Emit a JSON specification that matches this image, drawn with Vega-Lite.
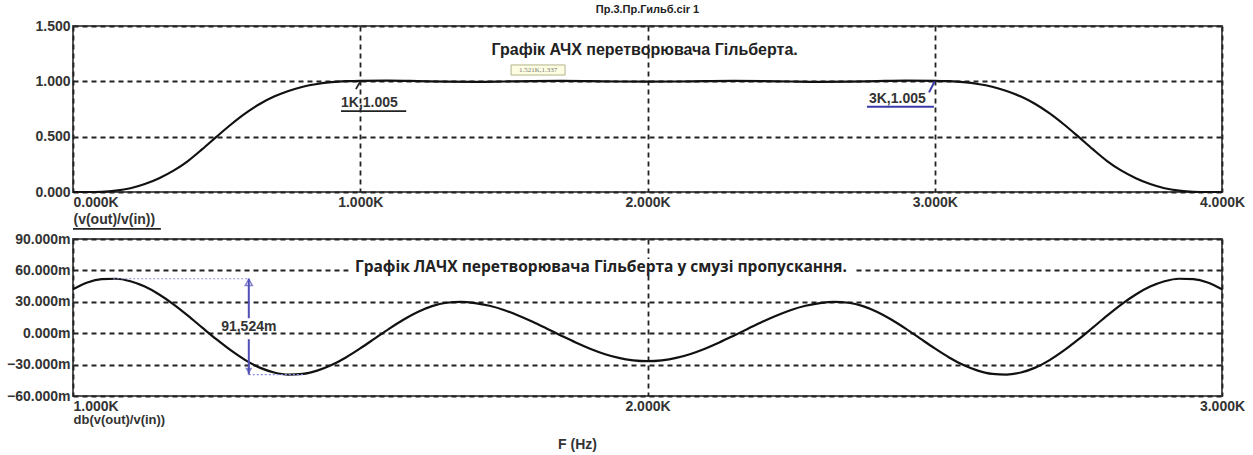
{
  "$schema": "https://vega.github.io/schema/vega-lite/v6.json",
  "background": "white",
  "padding": {"left": 5, "top": 4, "right": 5, "bottom": 0},
  "title": {
    "text": "Пр.3.Пр.Гильб.cir 1",
    "font": "Liberation Sans",
    "fontSize": 11,
    "fontWeight": "bold",
    "color": "#222",
    "anchor": "middle",
    "frame": "group",
    "offset": 3
  },
  "config": {
    "font": "Liberation Sans",
    "view": {"stroke": "#555", "strokeWidth": 2},
    "axis": {
      "labelFont": "Liberation Sans",
      "labelFontSize": 14,
      "labelFontWeight": "bold",
      "labelColor": "#333",
      "labelOverlap": false,
      "tickCount": 10,
      "ticks": false,
      "domain": false,
      "grid": true,
      "gridColor": "#222",
      "gridDash": [5, 4],
      "gridWidth": 1.8,
      "gridOpacity": 1,
      "titleFont": "Liberation Sans",
      "titleFontSize": 14,
      "titleFontWeight": "bold",
      "titleColor": "#333"
    }
  },
  "bounds": "flush",
  "spacing": 47,
  "vconcat": [
    {
      "width": 1149,
      "height": 166,
      "layer": [
        {
          "data": {"values": [
            {"f": 0.00, "v": 0}, {"f": 0.05, "v": 0}, {"f": 0.10, "v": 0.002}, {"f": 0.15, "v": 0.012},
            {"f": 0.20, "v": 0.034}, {"f": 0.25, "v": 0.072}, {"f": 0.30, "v": 0.125}, {"f": 0.35, "v": 0.193},
            {"f": 0.40, "v": 0.28}, {"f": 0.45, "v": 0.387}, {"f": 0.50, "v": 0.5}, {"f": 0.55, "v": 0.61},
            {"f": 0.60, "v": 0.71}, {"f": 0.65, "v": 0.795}, {"f": 0.70, "v": 0.862}, {"f": 0.75, "v": 0.913},
            {"f": 0.80, "v": 0.951}, {"f": 0.85, "v": 0.976}, {"f": 0.90, "v": 0.992}, {"f": 0.95, "v": 1.001},
            {"f": 1.00, "v": 1.005}, {"f": 1.10, "v": 1.0058}, {"f": 1.20, "v": 1.0019}, {"f": 1.30, "v": 0.997},
            {"f": 1.40, "v": 0.9955}, {"f": 1.50, "v": 0.9983}, {"f": 1.60, "v": 1.0023}, {"f": 1.70, "v": 1.0033},
            {"f": 1.80, "v": 1.0013}, {"f": 1.90, "v": 0.9983}, {"f": 2.00, "v": 0.9969}, {"f": 2.10, "v": 0.9983},
            {"f": 2.20, "v": 1.0013}, {"f": 2.30, "v": 1.0033}, {"f": 2.40, "v": 1.0023}, {"f": 2.50, "v": 0.9983},
            {"f": 2.60, "v": 0.9955}, {"f": 2.70, "v": 0.997}, {"f": 2.80, "v": 1.0019}, {"f": 2.90, "v": 1.0058},
            {"f": 3.00, "v": 1.005}, {"f": 3.05, "v": 1.001}, {"f": 3.10, "v": 0.992}, {"f": 3.15, "v": 0.976},
            {"f": 3.20, "v": 0.951}, {"f": 3.25, "v": 0.913}, {"f": 3.30, "v": 0.862}, {"f": 3.35, "v": 0.795},
            {"f": 3.40, "v": 0.71}, {"f": 3.45, "v": 0.61}, {"f": 3.50, "v": 0.5}, {"f": 3.55, "v": 0.387},
            {"f": 3.60, "v": 0.28}, {"f": 3.65, "v": 0.193}, {"f": 3.70, "v": 0.125}, {"f": 3.75, "v": 0.072},
            {"f": 3.80, "v": 0.034}, {"f": 3.85, "v": 0.012}, {"f": 3.90, "v": 0.002}, {"f": 3.95, "v": 0},
            {"f": 4.00, "v": 0}
          ]},
          "mark": {"type": "line", "color": "#111", "strokeWidth": 2.2, "interpolate": "monotone"},
          "encoding": {
            "x": {
              "field": "f", "type": "quantitative",
              "scale": {"domain": [0, 4], "nice": false, "zero": false},
              "axis": {
                "values": [0, 1, 2, 3, 4],
                "labelExpr": "format(datum.value, '.3f') + 'K'",
                "labelAlign": {"condition": {"test": "datum.value == 0", "value": "left"}, "value": "center"},
                "labelPadding": 3,
                "title": "(v(out)/v(in))",
                "titleAnchor": "start",
                "titleAlign": "left",
                "titlePadding": 3
              }
            },
            "y": {
              "field": "v", "type": "quantitative",
              "scale": {"domain": [0, 1.5], "nice": false},
              "axis": {"values": [0, 0.5, 1, 1.5], "format": ".3f", "labelPadding": 3, "title": null}
            }
          }
        },
        {
          "data": {"values": [{"f1": 1.525, "f2": 1.713, "v1": 1.057, "v2": 1.148}]},
          "mark": {"type": "rect", "fill": "#fdfde2", "stroke": "#b4b48c", "strokeWidth": 1},
          "encoding": {
            "x": {"field": "f1", "type": "quantitative"},
            "x2": {"field": "f2"},
            "y": {"field": "v1", "type": "quantitative"},
            "y2": {"field": "v2"}
          }
        },
        {
          "data": {"values": [{"f": 1.619, "v": 1.102, "label": "1.521K,1.337"}]},
          "mark": {"type": "text", "fontSize": 7, "color": "#777", "font": "Liberation Serif"},
          "encoding": {
            "x": {"field": "f", "type": "quantitative"},
            "y": {"field": "v", "type": "quantitative"},
            "text": {"field": "label"}
          }
        },
        {
          "data": {"values": [{"f": 1.99, "v": 1.283, "label": "Графік АЧХ перетворювача Гільберта."}]},
          "mark": {"type": "text", "fontSize": 16, "fontWeight": "bold", "color": "#222"},
          "encoding": {
            "x": {"field": "f", "type": "quantitative"},
            "y": {"field": "v", "type": "quantitative"},
            "text": {"field": "label"}
          }
        },
        {
          "data": {"values": [
            {"f": 0.933, "v": 0.80, "label": "1K,1.005"},
            {"f": 2.771, "v": 0.84, "label": "3K,1.005"}
          ]},
          "mark": {"type": "text", "fontSize": 14, "fontWeight": "bold", "color": "#333", "align": "left"},
          "encoding": {
            "x": {"field": "f", "type": "quantitative"},
            "y": {"field": "v", "type": "quantitative"},
            "text": {"field": "label"}
          }
        },
        {
          "data": {"values": [
            {"f1": 0.933, "f2": 1.16, "v1": 0.73, "v2": 0.73},
            {"f1": 0.985, "f2": 1.0, "v1": 0.93, "v2": 1.0},
            {"f1": 0.0, "f2": 0.306, "v1": -0.334, "v2": -0.334}
          ]},
          "mark": {"type": "rule", "color": "#222", "strokeWidth": 1.8},
          "encoding": {
            "x": {"field": "f1", "type": "quantitative"},
            "x2": {"field": "f2"},
            "y": {"field": "v1", "type": "quantitative"},
            "y2": {"field": "v2"}
          }
        },
        {
          "data": {"values": [
            {"f1": 2.764, "f2": 2.997, "v1": 0.77, "v2": 0.77},
            {"f1": 2.98, "f2": 3.0, "v1": 0.90, "v2": 1.0}
          ]},
          "mark": {"type": "rule", "color": "#3a3aaa", "strokeWidth": 2},
          "encoding": {
            "x": {"field": "f1", "type": "quantitative"},
            "x2": {"field": "f2"},
            "y": {"field": "v1", "type": "quantitative"},
            "y2": {"field": "v2"}
          }
        }
      ]
    },
    {
      "width": 1149,
      "height": 157,
      "layer": [
        {
          "data": {"values": [{"f1": 1.48, "f2": 2.36, "v1": 57.0, "v2": 71.0}]},
          "mark": {"type": "rect", "fill": "white"},
          "encoding": {
            "x": {"field": "f1", "type": "quantitative"},
            "x2": {"field": "f2"},
            "y": {"field": "v1", "type": "quantitative"},
            "y2": {"field": "v2"}
          }
        },
        {
          "data": {"values": [
            {"f": 1.000, "db": 42.0}, {"f": 1.025, "db": 48.5}, {"f": 1.050, "db": 51.6}, {"f": 1.075, "db": 52.0},
            {"f": 1.100, "db": 49.6}, {"f": 1.125, "db": 44.5}, {"f": 1.150, "db": 37.0}, {"f": 1.175, "db": 27.6},
            {"f": 1.200, "db": 16.8}, {"f": 1.225, "db": 5.3}, {"f": 1.250, "db": -6.0}, {"f": 1.275, "db": -16.5},
            {"f": 1.300, "db": -25.7}, {"f": 1.325, "db": -32.9}, {"f": 1.350, "db": -37.5}, {"f": 1.375, "db": -39.5},
            {"f": 1.400, "db": -38.9}, {"f": 1.425, "db": -35.8}, {"f": 1.450, "db": -30.5}, {"f": 1.475, "db": -23.2},
            {"f": 1.500, "db": -14.5}, {"f": 1.525, "db": -5.2}, {"f": 1.550, "db": 4.2}, {"f": 1.575, "db": 12.9},
            {"f": 1.600, "db": 20.3}, {"f": 1.625, "db": 25.9}, {"f": 1.650, "db": 29.1}, {"f": 1.675, "db": 30.0},
            {"f": 1.700, "db": 28.8}, {"f": 1.725, "db": 26.2}, {"f": 1.750, "db": 22.2}, {"f": 1.775, "db": 16.9},
            {"f": 1.800, "db": 10.9}, {"f": 1.825, "db": 4.3}, {"f": 1.850, "db": -2.4}, {"f": 1.875, "db": -8.9},
            {"f": 1.900, "db": -14.8}, {"f": 1.925, "db": -19.8}, {"f": 1.950, "db": -23.6}, {"f": 1.975, "db": -25.9},
            {"f": 2.000, "db": -26.7}, {"f": 2.025, "db": -25.9}, {"f": 2.050, "db": -23.6}, {"f": 2.075, "db": -19.8},
            {"f": 2.100, "db": -14.8}, {"f": 2.125, "db": -8.9}, {"f": 2.150, "db": -2.4}, {"f": 2.175, "db": 4.3},
            {"f": 2.200, "db": 10.9}, {"f": 2.225, "db": 16.9}, {"f": 2.250, "db": 22.2}, {"f": 2.275, "db": 26.2},
            {"f": 2.300, "db": 28.8}, {"f": 2.325, "db": 30.0}, {"f": 2.350, "db": 29.1}, {"f": 2.375, "db": 25.9},
            {"f": 2.400, "db": 20.3}, {"f": 2.425, "db": 12.9}, {"f": 2.450, "db": 4.2}, {"f": 2.475, "db": -5.2},
            {"f": 2.500, "db": -14.5}, {"f": 2.525, "db": -23.2}, {"f": 2.550, "db": -30.5}, {"f": 2.575, "db": -35.8},
            {"f": 2.600, "db": -38.9}, {"f": 2.625, "db": -39.5}, {"f": 2.650, "db": -37.5}, {"f": 2.675, "db": -32.9},
            {"f": 2.700, "db": -25.7}, {"f": 2.725, "db": -16.5}, {"f": 2.750, "db": -6.0}, {"f": 2.775, "db": 5.3},
            {"f": 2.800, "db": 16.8}, {"f": 2.825, "db": 27.6}, {"f": 2.850, "db": 37.0}, {"f": 2.875, "db": 44.5},
            {"f": 2.900, "db": 49.6}, {"f": 2.925, "db": 52.0}, {"f": 2.950, "db": 51.6}, {"f": 2.975, "db": 48.5},
            {"f": 3.000, "db": 42.0}
          ]},
          "mark": {"type": "line", "color": "#111", "strokeWidth": 2.2, "interpolate": "monotone"},
          "encoding": {
            "x": {
              "field": "f", "type": "quantitative",
              "scale": {"domain": [1, 3], "nice": false, "zero": false},
              "axis": {
                "values": [1, 2, 3],
                "labelExpr": "format(datum.value, '.3f') + 'K'",
                "labelAlign": {"condition": {"test": "datum.value == 1", "value": "left"}, "value": "center"},
                "labelPadding": 3,
                "title": "F (Hz)",
                "titleX": 504,
                "titleY": 48,
                "titleAlign": "center",
                "titleBaseline": "middle"
              }
            },
            "y": {
              "field": "db", "type": "quantitative",
              "scale": {"domain": [-60, 90], "nice": false, "zero": false},
              "axis": {
                "values": [-60, -30, 0, 30, 60, 90],
                "tickCount": 10,
                "labelExpr": "format(datum.value, '.3f') + 'm'",
                "labelPadding": 3,
                "title": "db(v(out)/v(in))",
                "titleFontSize": 13,
                "titleAngle": 0,
                "titleX": 0,
                "titleY": 180,
                "titleAlign": "left",
                "titleBaseline": "middle"
              }
            }
          }
        },
        {
          "data": {"values": [{"f": 1.919, "db": 63.5, "label": "Графік ЛАЧХ перетворювача Гільберта у смузі пропускання."}]},
          "mark": {"type": "text", "font": "Open Sans", "fontSize": 15.5, "fontWeight": "bold", "color": "#222"},
          "encoding": {
            "x": {"field": "f", "type": "quantitative"},
            "y": {"field": "db", "type": "quantitative"},
            "text": {"field": "label"}
          }
        },
        {
          "data": {"values": [
            {"f1": 1.07, "f2": 1.306, "d1": 52.0, "d2": 52.0},
            {"f1": 1.306, "f2": 1.40, "d1": -39.524, "d2": -39.524}
          ]},
          "mark": {"type": "rule", "color": "#8c8ce0", "strokeWidth": 1.2, "strokeDash": [2, 2]},
          "encoding": {
            "x": {"field": "f1", "type": "quantitative"},
            "x2": {"field": "f2"},
            "y": {"field": "d1", "type": "quantitative"},
            "y2": {"field": "d2"}
          }
        },
        {
          "data": {"values": [
            {"f": 1.306, "d1": 52.0, "d2": 14.3},
            {"f": 1.306, "d1": -5.7, "d2": -39.524}
          ]},
          "mark": {"type": "rule", "color": "#5050b8", "strokeWidth": 2},
          "encoding": {
            "x": {"field": "f", "type": "quantitative"},
            "y": {"field": "d1", "type": "quantitative"},
            "y2": {"field": "d2"}
          }
        },
        {
          "data": {"values": [{"f": 1.306, "db": 48.5}]},
          "mark": {"type": "point", "shape": "triangle-up", "size": 50, "color": "#5050b8", "filled": false, "strokeWidth": 1.5},
          "encoding": {
            "x": {"field": "f", "type": "quantitative"},
            "y": {"field": "db", "type": "quantitative"}
          }
        },
        {
          "data": {"values": [{"f": 1.306, "db": -36.0}]},
          "mark": {"type": "point", "shape": "triangle-down", "size": 50, "color": "#5050b8", "filled": true},
          "encoding": {
            "x": {"field": "f", "type": "quantitative"},
            "y": {"field": "db", "type": "quantitative"}
          }
        },
        {
          "data": {"values": [{"f": 1.306, "db": 6.0, "label": "91,524m"}]},
          "mark": {"type": "text", "fontSize": 14, "fontWeight": "bold", "color": "#333"},
          "encoding": {
            "x": {"field": "f", "type": "quantitative"},
            "y": {"field": "db", "type": "quantitative"},
            "text": {"field": "label"}
          }
        }
      ]
    }
  ]
}
